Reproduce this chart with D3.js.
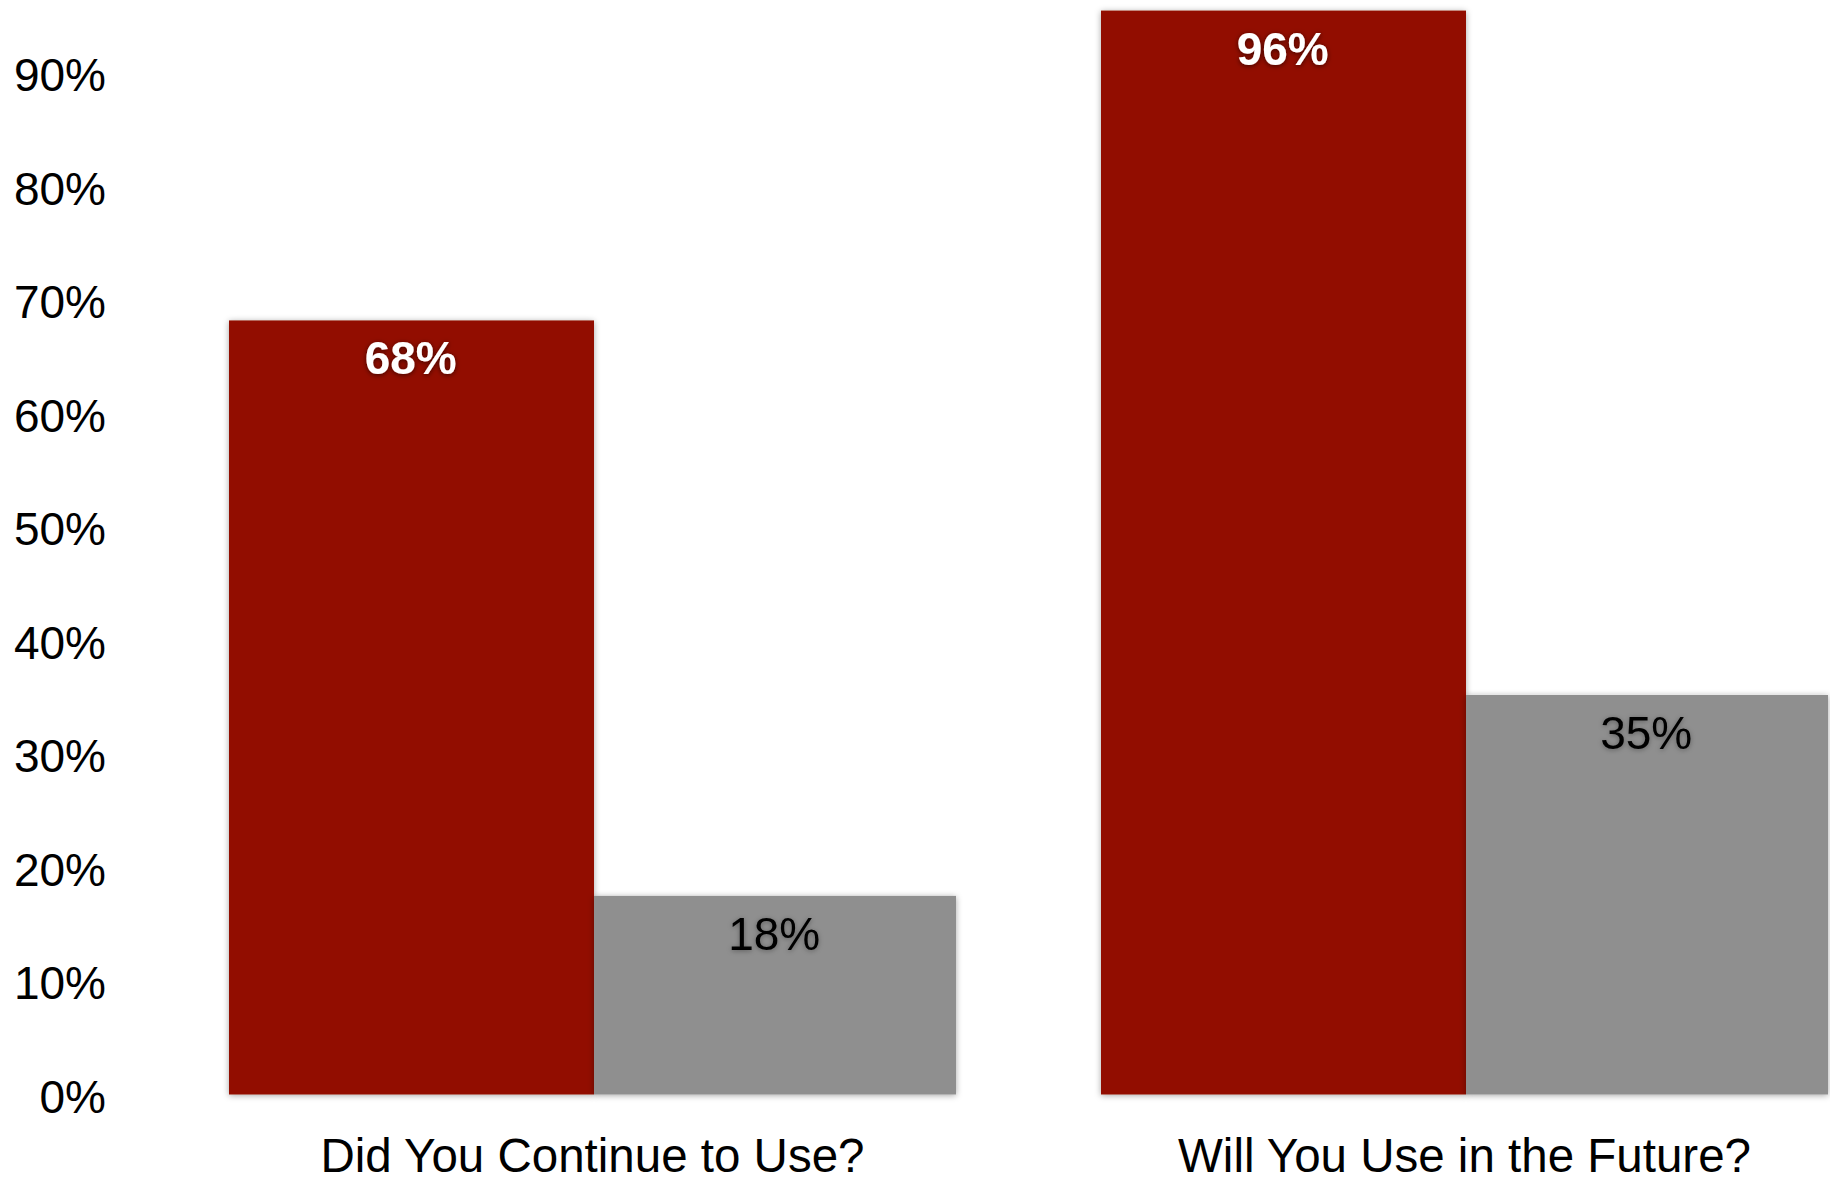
<!DOCTYPE html>
<html>
<head>
<meta charset="utf-8">
<script src="https://cdn.jsdelivr.net/npm/d3@7"></script>
<style>
  html, body { margin: 0; padding: 0; background: #fff; }
  svg { display: block; }
  text { font-family: "Liberation Sans", Arial, Helvetica, sans-serif; }
</style>
</head>
<body>
<svg id="chart" width="1830" height="1181"></svg>
<script>
// Data
const categories = ["Did You Continue to Use?", "Will You Use in the Future?"];
const seriesNames = ["Yes", "Other"];
const redValues = [68.2, 95.5];
const grayValues = [17.5, 35.2];
const yTicks = [0, 10, 20, 30, 40, 50, 60, 70, 80, 90];

const colors = { Yes: "#921100", Other: "#8f8f8f" };
const labelColors = { Yes: "#ffffff", Other: "#000000" };
const labelWeights = { Yes: "bold", Other: "normal" };

const rows = categories.map((c, i) => ({
  category: c,
  values: [
    { series: "Yes", value: redValues[i] },
    { series: "Other", value: grayValues[i] }
  ]
}));

const svg = d3.select("#chart");
const defs = svg.append("defs");
const barShadow = defs.append("filter").attr("id", "barShadow")
  .attr("x", "-10%").attr("y", "-10%").attr("width", "120%").attr("height", "120%");
barShadow.append("feDropShadow").attr("dx", 0).attr("dy", 1)
  .attr("stdDeviation", 3).attr("flood-color", "#000").attr("flood-opacity", 0.35);

const textShadowW = defs.append("filter").attr("id", "textShadowW")
  .attr("x", "-20%").attr("y", "-30%").attr("width", "140%").attr("height", "160%");
textShadowW.append("feDropShadow").attr("dx", 0).attr("dy", 1)
  .attr("stdDeviation", 2.5).attr("flood-color", "#000").attr("flood-opacity", 0.6);

const textShadowB = defs.append("filter").attr("id", "textShadowB")
  .attr("x", "-20%").attr("y", "-30%").attr("width", "140%").attr("height", "160%");
textShadowB.append("feDropShadow").attr("dx", 0).attr("dy", 1)
  .attr("stdDeviation", 2.5).attr("flood-color", "#000").attr("flood-opacity", 0.35);

// Scales
const y0 = 1094.5;
const y = d3.scaleLinear().domain([0, 100]).range([y0, y0 - 1135]);

const x0 = d3.scaleBand().domain(categories)
  .range([229, 1828])
  .paddingInner(145 / 872).paddingOuter(0);

const x1 = d3.scaleBand().domain(seriesNames).range([0, x0.bandwidth()]).padding(0)
  .align(0);
// red bars slightly wider than grey ones in the reference
x1.range([0, x0.bandwidth()]);

// Y axis tick labels
svg.append("g").selectAll("text")
  .data(yTicks).join("text")
  .attr("x", 106)
  .attr("y", d => y(d) + 18)
  .attr("text-anchor", "end")
  .attr("font-size", 46)
  .attr("fill", "#000")
  .text(d => d + "%");

// Bars
const groups = svg.append("g").selectAll("g")
  .data(rows).join("g")
  .attr("transform", d => `translate(${x0(d.category)},0)`);

groups.selectAll("rect")
  .data(d => d.values).join("rect")
  .attr("x", d => x1(d.series) + (d.series === "Other" ? 1.5 : 0))
  .attr("y", d => y(d.value))
  .attr("width", d => x1.bandwidth() + (d.series === "Other" ? -1.5 : 1.5))
  .attr("height", d => y0 - y(d.value))
  .attr("fill", d => colors[d.series])
  .attr("filter", "url(#barShadow)");

// Value labels
groups.selectAll("text.val")
  .data(d => d.values).join("text")
  .attr("class", "val")
  .attr("x", d => x1(d.series) + x1.bandwidth() / 2)
  .attr("y", d => y(d.value) + 54)
  .attr("text-anchor", "middle")
  .attr("font-size", 46)
  .attr("font-weight", d => labelWeights[d.series])
  .attr("fill", d => labelColors[d.series])
  .attr("filter", d => d.series === "Yes" ? "url(#textShadowW)" : "url(#textShadowB)")
  .text(d => Math.round(d.value) + "%");

// Category labels
svg.append("g").selectAll("text")
  .data(categories).join("text")
  .attr("x", d => x0(d) + x0.bandwidth() / 2)
  .attr("y", 1172)
  .attr("text-anchor", "middle")
  .attr("font-size", 47.5)
  .attr("fill", "#000")
  .text(d => d);
</script>
</body>
</html>
